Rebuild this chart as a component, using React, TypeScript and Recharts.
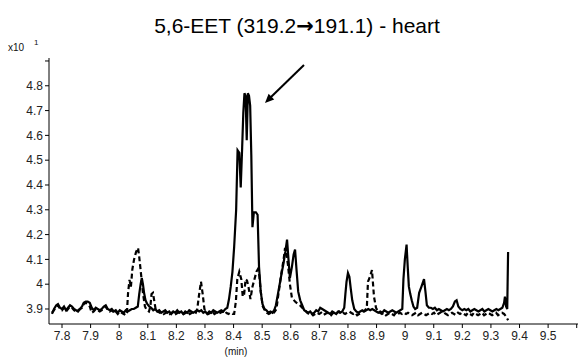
import React from 'react';
import { LineChart, Line, XAxis, YAxis } from 'recharts';

// retention time (min) / intensity (x10^1)
const solidT = [
  7.765, 7.772, 7.78, 7.786, 7.793, 7.8, 7.807, 7.814, 7.821, 7.828, 7.835, 7.842, 7.849, 7.856, 7.863, 7.87,
  7.876, 7.883, 7.89, 7.897, 7.904, 7.911, 7.918, 7.925, 7.932, 7.939, 7.946, 7.953, 7.96, 7.967, 7.974, 7.981,
  7.988, 7.995, 8.002, 8.009, 8.016, 8.023, 8.03, 8.037, 8.044, 8.051, 8.058, 8.065, 8.07, 8.075, 8.079, 8.083,
  8.087, 8.092, 8.098, 8.105, 8.112, 8.119, 8.126, 8.133, 8.14, 8.147, 8.154, 8.161, 8.168, 8.175, 8.182, 8.189,
  8.196, 8.203, 8.21, 8.217, 8.224, 8.231, 8.238, 8.245, 8.252, 8.259, 8.266, 8.273, 8.28, 8.287, 8.294, 8.301,
  8.308, 8.315, 8.322, 8.329, 8.336, 8.343, 8.35, 8.357, 8.364, 8.371, 8.378, 8.384, 8.39, 8.396, 8.402, 8.409,
  8.414, 8.42, 8.425, 8.43, 8.434, 8.438, 8.442, 8.446, 8.45, 8.454, 8.458, 8.462, 8.466, 8.471, 8.478, 8.484,
  8.489, 8.495, 8.501, 8.508, 8.515, 8.522, 8.529, 8.536, 8.542, 8.548, 8.555, 8.562, 8.569, 8.574, 8.581, 8.587,
  8.592, 8.597, 8.604, 8.61, 8.615, 8.62, 8.626, 8.633, 8.64, 8.647, 8.654, 8.661, 8.668, 8.675, 8.682, 8.689,
  8.696, 8.703, 8.71, 8.717, 8.724, 8.731, 8.738, 8.745, 8.752, 8.759, 8.766, 8.773, 8.78, 8.787, 8.791, 8.795,
  8.8, 8.805, 8.81, 8.815, 8.822, 8.829, 8.836, 8.843, 8.85, 8.857, 8.864, 8.871, 8.878, 8.885, 8.892, 8.899,
  8.906, 8.913, 8.92, 8.927, 8.934, 8.941, 8.948, 8.955, 8.962, 8.969, 8.976, 8.983, 8.99, 8.994, 8.999, 9.005,
  9.009, 9.013, 9.018, 9.023, 9.029, 9.035, 9.042, 9.049, 9.057, 9.066, 9.071, 9.076, 9.083, 9.09, 9.097, 9.104,
  9.111, 9.118, 9.125, 9.132, 9.139, 9.146, 9.153, 9.16, 9.167, 9.174, 9.18, 9.186, 9.193, 9.2, 9.207, 9.214,
  9.221, 9.228, 9.235, 9.242, 9.249, 9.256, 9.263, 9.27, 9.277, 9.284, 9.291, 9.298, 9.305, 9.312, 9.319, 9.326,
  9.333, 9.34, 9.346, 9.349, 9.353, 9.357, 9.36,
];
const solidV = [
  3.88, 3.9, 3.915, 3.92, 3.905, 3.9, 3.91, 3.895, 3.905, 3.915, 3.91, 3.9, 3.895, 3.89, 3.9, 3.91,
  3.925, 3.93, 3.93, 3.925, 3.905, 3.895, 3.905, 3.9, 3.895, 3.9, 3.91, 3.915, 3.9, 3.895, 3.9, 3.89,
  3.895, 3.885, 3.895, 3.89, 3.885, 3.895, 3.89, 3.895, 3.9, 3.9, 3.905, 3.91, 3.96, 4.0, 4.025, 4.0,
  3.965, 3.935, 3.92, 3.91, 3.905, 3.895, 3.9, 3.89, 3.895, 3.885, 3.89, 3.895, 3.885, 3.89, 3.88, 3.89,
  3.885, 3.895, 3.885, 3.89, 3.88, 3.89, 3.885, 3.895, 3.89, 3.885, 3.89, 3.895, 3.89, 3.895, 3.885, 3.89,
  3.88, 3.89, 3.885, 3.895, 3.89, 3.885, 3.89, 3.895, 3.89, 3.9, 3.905, 3.94, 3.99, 4.05, 4.15, 4.3,
  4.54, 4.53, 4.39, 4.55, 4.69, 4.77, 4.76, 4.58, 4.77, 4.76, 4.72, 4.52, 4.23, 4.29, 4.29, 4.28,
  4.07, 3.97, 3.92, 3.9, 3.895, 3.885, 3.89, 3.885, 3.895, 3.915, 3.96, 4.005, 4.05, 4.08, 4.13, 4.18,
  4.1, 4.025, 4.07, 4.12, 4.14, 4.06, 3.97, 3.935, 3.915, 3.895, 3.89, 3.885, 3.89, 3.88, 3.885, 3.895,
  3.89, 3.905, 3.9, 3.895, 3.89, 3.885, 3.88, 3.89, 3.885, 3.88, 3.89, 3.885, 3.89, 3.905, 3.96, 4.01,
  4.045, 4.03, 3.98, 3.935, 3.9, 3.89, 3.885, 3.89, 3.895, 3.89, 3.895, 3.9, 3.895, 3.9, 3.895, 3.89,
  3.885, 3.89, 3.885, 3.895, 3.89, 3.885, 3.89, 3.895, 3.89, 3.885, 3.89, 3.895, 3.9, 4.02, 4.1, 4.16,
  4.07, 3.99, 3.96, 3.935, 3.91, 3.9, 3.905, 3.965, 3.99, 4.02, 3.97, 3.915, 3.905, 3.905, 3.9, 3.905,
  3.895, 3.9, 3.895, 3.89, 3.895, 3.9, 3.895, 3.9, 3.91, 3.93, 3.935, 3.91, 3.9, 3.895, 3.9, 3.895,
  3.9, 3.89, 3.895, 3.9, 3.895, 3.89, 3.895, 3.9, 3.89, 3.895, 3.9, 3.895, 3.89, 3.895, 3.9, 3.895,
  3.9, 3.905, 3.925, 3.95, 3.91, 3.9, 4.13,
];

const dashT = [
  7.765, 7.772, 7.78, 7.786, 7.793, 7.8, 7.807, 7.814, 7.821, 7.828, 7.835, 7.842, 7.849, 7.856, 7.863, 7.87,
  7.876, 7.883, 7.89, 7.897, 7.904, 7.911, 7.918, 7.925, 7.932, 7.939, 7.946, 7.953, 7.96, 7.967, 7.974, 7.981,
  7.988, 7.995, 8.002, 8.009, 8.016, 8.023, 8.027, 8.031, 8.036, 8.041, 8.046, 8.052, 8.059, 8.066, 8.07, 8.076,
  8.083, 8.09, 8.097, 8.104, 8.109, 8.113, 8.118, 8.123, 8.128, 8.135, 8.142, 8.149, 8.156, 8.163, 8.17, 8.177,
  8.184, 8.191, 8.198, 8.205, 8.212, 8.219, 8.226, 8.233, 8.24, 8.247, 8.254, 8.261, 8.268, 8.273, 8.279, 8.286,
  8.292, 8.298, 8.305, 8.312, 8.319, 8.326, 8.333, 8.34, 8.347, 8.354, 8.361, 8.368, 8.375, 8.382, 8.389, 8.396,
  8.402, 8.408, 8.413, 8.42, 8.427, 8.432, 8.437, 8.442, 8.447, 8.452, 8.459, 8.466, 8.473, 8.48, 8.485, 8.49,
  8.495, 8.502, 8.509, 8.516, 8.523, 8.53, 8.537, 8.544, 8.55, 8.555, 8.566, 8.575, 8.58, 8.585, 8.59, 8.597,
  8.604, 8.615, 8.625, 8.632, 8.64, 8.65, 8.657, 8.664, 8.671, 8.678, 8.685, 8.692, 8.699, 8.706, 8.713, 8.72,
  8.727, 8.734, 8.741, 8.748, 8.755, 8.762, 8.769, 8.776, 8.783, 8.79, 8.797, 8.804, 8.811, 8.818, 8.825, 8.832,
  8.839, 8.846, 8.853, 8.86, 8.866, 8.87, 8.877, 8.884, 8.891, 8.898, 8.905, 8.912, 8.919, 8.926, 8.933, 8.94,
  8.947, 8.954, 8.961, 8.968, 8.975, 8.982, 8.989, 8.996, 9.003, 9.01, 9.017, 9.024, 9.031, 9.038, 9.045, 9.052,
  9.059, 9.066, 9.073, 9.08, 9.087, 9.094, 9.101, 9.108, 9.115, 9.122, 9.129, 9.136, 9.143, 9.15, 9.157, 9.164,
  9.171, 9.178, 9.185, 9.192, 9.199, 9.206, 9.213, 9.22, 9.227, 9.234, 9.241, 9.248, 9.255, 9.262, 9.269, 9.276,
  9.283, 9.29, 9.297, 9.304, 9.311, 9.318, 9.325, 9.332, 9.339, 9.346, 9.353, 9.36,
];
const dashV = [
  3.885, 3.895, 3.91, 3.915, 3.9, 3.895, 3.905, 3.89, 3.9, 3.91, 3.905, 3.895, 3.89, 3.895, 3.9, 3.905,
  3.92, 3.925, 3.92, 3.91, 3.885, 3.89, 3.9, 3.895, 3.89, 3.895, 3.905, 3.91, 3.895, 3.89, 3.895, 3.885,
  3.89, 3.88, 3.89, 3.885, 3.88, 3.875, 3.885, 3.965, 4.017, 3.99, 4.06, 4.1, 4.13, 4.146, 4.11, 4.045,
  3.965, 3.91, 3.895, 3.89, 3.91, 3.96, 3.965, 3.93, 3.895, 3.89, 3.885, 3.89, 3.88, 3.885, 3.89, 3.88,
  3.885, 3.89, 3.88, 3.885, 3.89, 3.885, 3.88, 3.885, 3.89, 3.88, 3.885, 3.89, 3.885, 3.9, 3.955, 4.01,
  3.96, 3.9, 3.885, 3.88, 3.885, 3.89, 3.88, 3.885, 3.88, 3.885, 3.89, 3.88, 3.885, 3.88, 3.885, 3.88,
  3.88, 3.93, 4.02, 4.05, 4.02, 3.95, 3.96, 4.02, 4.015, 3.99, 3.94, 3.99, 4.02, 4.05, 4.06, 4.035,
  3.97, 3.91, 3.895, 3.885, 3.88, 3.885, 3.88, 3.89, 3.9, 3.945, 4.035, 4.1, 4.146, 4.12, 4.08, 4.0,
  3.945, 3.93, 3.92, 3.915, 3.905, 3.895, 3.885, 3.88, 3.885, 3.875, 3.88, 3.885, 3.88, 3.885, 3.875, 3.88,
  3.885, 3.88, 3.875, 3.885, 3.88, 3.885, 3.89, 3.88, 3.885, 3.88, 3.885, 3.89, 3.885, 3.88, 3.885, 3.875,
  3.88, 3.885, 3.89, 3.895, 3.905, 4.01, 4.03, 4.057, 3.95, 3.905, 3.89, 3.885, 3.88, 3.885, 3.875, 3.88,
  3.885, 3.88, 3.875, 3.885, 3.88, 3.885, 3.88, 3.885, 3.88, 3.885, 3.88, 3.875, 3.88, 3.885, 3.875, 3.88,
  3.885, 3.88, 3.875, 3.88, 3.885, 3.88, 3.885, 3.875, 3.88, 3.885, 3.89, 3.885, 3.88, 3.875, 3.88, 3.885,
  3.88, 3.875, 3.885, 3.88, 3.885, 3.88, 3.875, 3.885, 3.88, 3.875, 3.885, 3.88, 3.875, 3.88, 3.885, 3.875,
  3.88, 3.885, 3.88, 3.875, 3.88, 3.885, 3.875, 3.88, 3.885, 3.88, 3.87, 3.855,
];

const xTicks = [7.8, 7.9, 8, 8.1, 8.2, 8.3, 8.4, 8.5, 8.6, 8.7, 8.8, 8.9, 9, 9.1, 9.2, 9.3, 9.4, 9.5, 9.6];
const yTicks = [3.9, 4, 4.1, 4.2, 4.3, 4.4, 4.5, 4.6, 4.7, 4.8, 4.9];

const solid = solidT.map((t, i) => ({ t, v: solidV[i] }));
const dashed = dashT.map((t, i) => ({ t, v: dashV[i] }));

const font = '"Liberation Sans", Arial, sans-serif';
const tickStyle = { fill: '#222', fontSize: 12, fontFamily: font };

export default function App() {
  return (
    <div style={{ position: 'relative', width: 581, height: 362, background: '#fff' }}>
      <style>{'body{margin:0}'}</style>
      <LineChart width={581} height={362} margin={{ top: 58, right: 3, bottom: 0, left: 9 }}>
        <XAxis
          type="number"
          dataKey="t"
          domain={[7.7545, 9.6045]}
          allowDataOverflow
          ticks={xTicks}
          tickFormatter={(v: number) => (v === 9.6 ? '' : String(v))}
          tick={tickStyle}
          tickSize={4}
          tickMargin={3}
          height={38}
          stroke="#000"
          interval={0}
        />
        <YAxis
          type="number"
          dataKey="v"
          domain={[3.8395, 4.912]}
          allowDataOverflow
          ticks={yTicks}
          tickFormatter={(v: number) => (v === 4.9 ? '' : String(v))}
          tick={tickStyle}
          tickSize={4}
          tickMargin={2}
          width={40}
          stroke="#000"
          interval={0}
        />
        <Line data={dashed} dataKey="v" type="linear" stroke="#000" strokeWidth={2.2} strokeDasharray="5 3" dot={false} isAnimationActive={false} />
        <Line data={solid} dataKey="v" type="linear" stroke="#000" strokeWidth={2.2} dot={false} isAnimationActive={false} />
      </LineChart>
      <svg width={581} height={362} style={{ position: 'absolute', left: 0, top: 0, pointerEvents: 'none' }}>
        <text x={297} y={33} textAnchor="middle" fontFamily={font} fontSize={21} fill="#000">
          5,6-EET (319.2<tspan fontFamily='"DejaVu Sans"' fontWeight="bold">→</tspan>191.1) - heart
        </text>
        <text x={8} y={51} fontFamily={font} fontSize={10} fill="#111">x10</text>
        <text x={34} y={45} fontFamily={font} fontSize={8} fill="#111">1</text>
        <text x={236} y={355} textAnchor="middle" fontFamily={font} fontSize={10} fill="#111">(min)</text>
        <line x1={304} y1={65} x2={271} y2={97} stroke="#000" strokeWidth={2} />
        <polygon points="265,103 274.2,99.6 268.6,93.8" fill="#000" />
      </svg>
    </div>
  );
}
